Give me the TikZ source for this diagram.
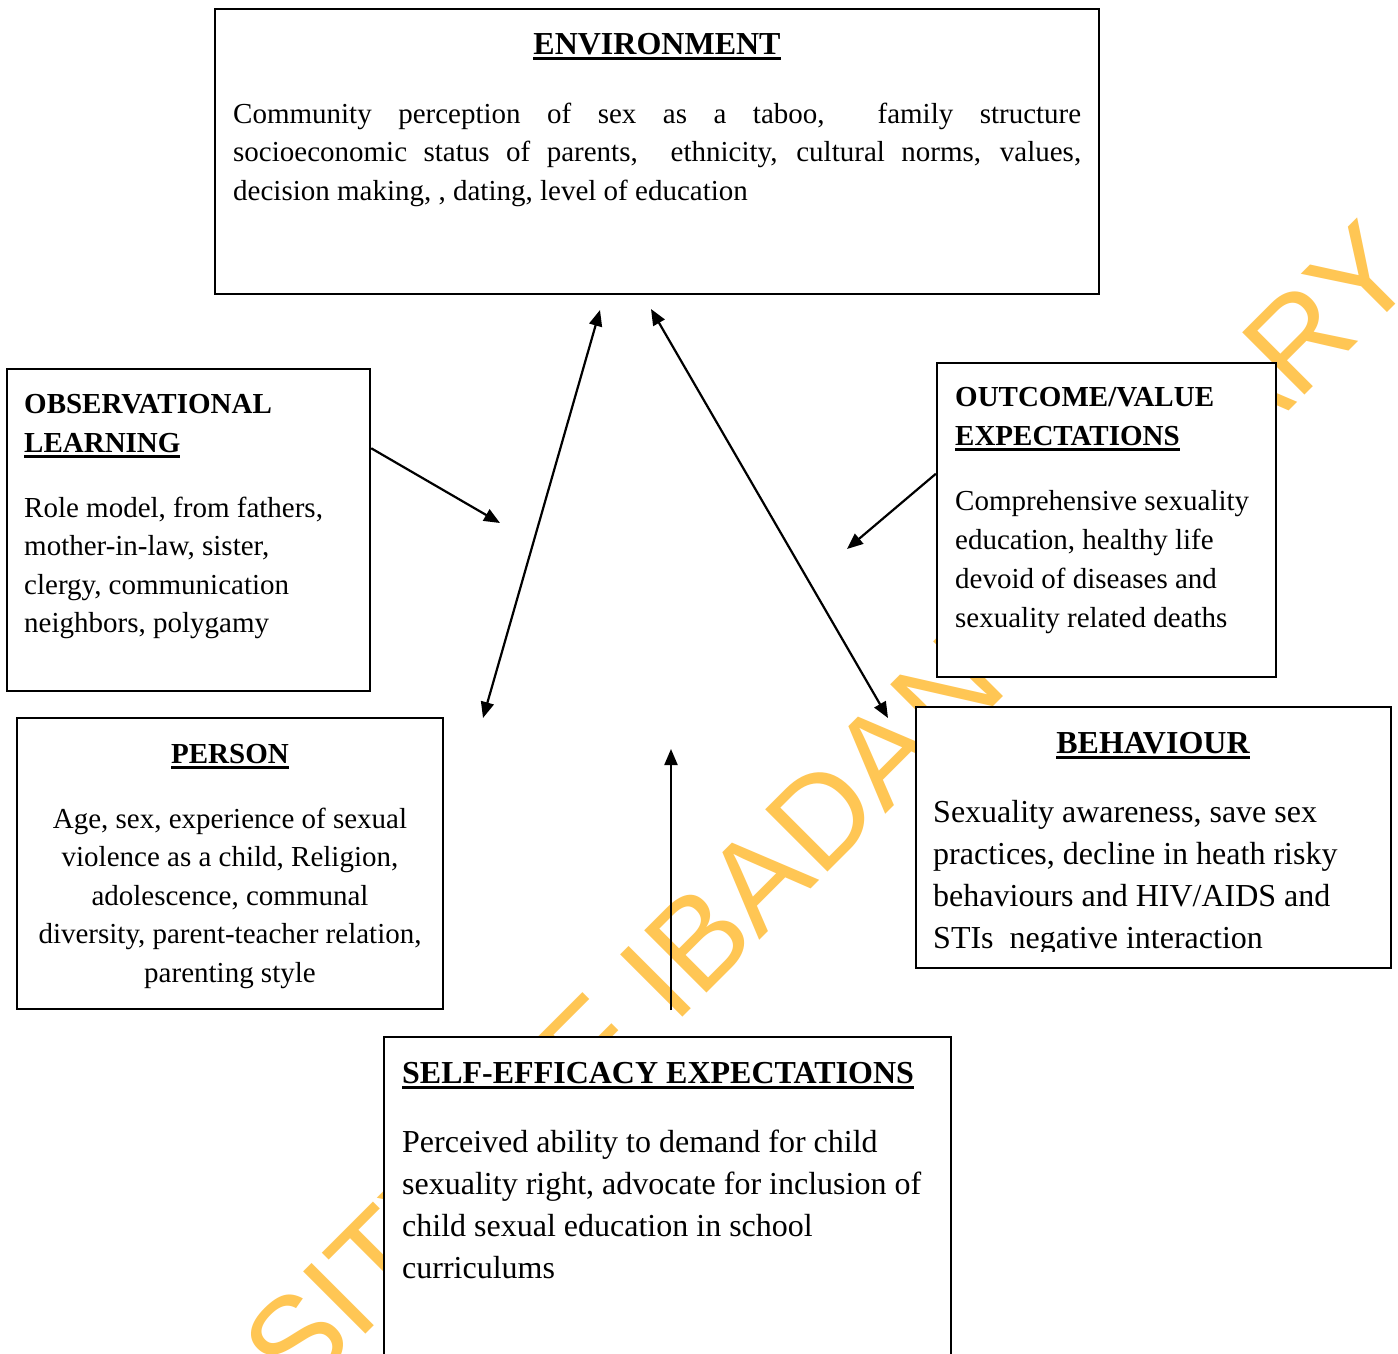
\documentclass[tikz,border=0pt]{standalone}
\usepackage{fontspec}
\setmainfont{Liberation Serif}
\newfontfamily\wmfont{Liberation Sans}
\usetikzlibrary{arrows.meta,calc}
\definecolor{wmcol}{RGB}{255,198,84}
\newcommand{\myul}[1]{\setbox0=\hbox{#1}\rlap{\rule[-5.5pt]{\wd0}{2.6pt}}\box0}
\tikzset{
  box/.style={draw, line width=2.4pt, fill=white, rectangle, inner sep=0pt},
  txt/.style={inner sep=0pt, font=\fontsize{29}{38.5}\selectfont},
  txtbig/.style={inner sep=0pt, font=\fontsize{32}{42}\selectfont},
  ttl/.style={inner sep=0pt, font=\fontsize{29}{39.5}\selectfont\bfseries},
  ttlbig/.style={inner sep=0pt, font=\fontsize{32}{42}\selectfont\bfseries},
  arr/.style={line width=2.2pt, -{Triangle[length=16pt,width=13pt]}},
  darr/.style={line width=2.2pt, {Triangle[length=16pt,width=13pt]}-{Triangle[length=16pt,width=13pt]}},
}
\begin{document}
\begin{tikzpicture}[x=1pt,y=-1pt]
\useasboundingbox (0,0) rectangle (1398,1353);
\clip (0,0) rectangle (1398,1353);
\fill[white] (0,0) rectangle (1398,1353);
% watermark
\node[anchor=base west, rotate=45, text=wmcol, inner sep=0pt,
      font=\wmfont\fontsize{128}{132}\selectfont] (wmark) at (-45,1745) {UNIVERSITY OF IBADAN LIBRARY};
% boxes
\node[box, minimum width=884pt, minimum height=285pt] (env) at (657,151.5) {};
\node[box, minimum width=363pt, minimum height=322pt] (obs) at (188.5,530) {};
\node[box, minimum width=339pt, minimum height=314pt] (out) at (1106.5,520) {};
\node[box, minimum width=426pt, minimum height=291pt] (per) at (230,863.5) {};
\node[box, minimum width=475pt, minimum height=261pt] (beh) at (1153.5,837.5) {};
\node[box, minimum width=567pt, minimum height=343pt] (self) at (667.5,1208.5) {};
% environment
\node[ttlbig, anchor=base] (envT) at (657,54) {\myul{ENVIRONMENT}};
\node[txt, anchor=base west] (envB) at (233,123) {\parbox[t]{848pt}{%
\makebox[848pt][s]{Community perception of sex as a taboo,\ \ family structure}\\
\makebox[848pt][s]{socioeconomic status of parents,\ \ ethnicity, cultural norms, values,}\\
decision making, , dating, level of education}};
% observational learning
\node[ttl, anchor=base west] (obsT) at (24,413) {\parbox[t]{340pt}{OBSERVATIONAL\\\myul{LEARNING}}};
\node[txt, anchor=base west] (obsB) at (24,517) {\parbox[t]{340pt}{Role model, from fathers,\\mother-in-law, sister,\\clergy, communication\\neighbors, polygamy}};
% outcome
\node[ttl, anchor=base west] (outT) at (955,406) {\parbox[t]{320pt}{OUTCOME/VALUE\\\myul{EXPECTATIONS}}};
\node[txt, anchor=base west] (outB) at (955,510) {\parbox[t]{320pt}{\fontsize{29}{39}\selectfont Comprehensive sexuality\\education, healthy life\\devoid of diseases and\\sexuality related deaths}};
% person
\node[ttl, anchor=base] (perT) at (230,763) {\myul{PERSON}};
\node[txt, anchor=base] (perB) at (230,828) {\parbox[t]{420pt}{\centering Age, sex, experience of sexual\\violence as a child, Religion,\\adolescence, communal\\diversity, parent-teacher relation,\\parenting style}};
% behaviour
\node[ttlbig, anchor=base] (behT) at (1153,753) {\myul{BEHAVIOUR}};
\begin{scope}
\clip (916,770) rectangle (1391,951);
\node[txtbig, anchor=base west] (behB) at (933,822) {\parbox[t]{450pt}{Sexuality awareness, save sex\\practices, decline in heath risky\\behaviours and HIV/AIDS and\\STIs\ \ negative interaction}};
\end{scope}
% self-efficacy
\node[ttlbig, anchor=base west] (selfT) at (402,1083) {\myul{SELF-EFFICACY EXPECTATIONS}};
\node[txtbig, anchor=base west] (selfB) at (402,1152) {\parbox[t]{540pt}{Perceived ability to demand for child\\sexuality right, advocate for inclusion of\\child sexual education in school\\curriculums}};
% connectors
\coordinate (c1) at (500,523);
\draw[arr] ($(obs.north east)!0.248!(obs.south east)$) -- (c1);
\coordinate (c2a) at (600,310);
\coordinate (c2b) at (483,718);
\draw[darr] (c2a) -- (c2b);
\coordinate (c3a) at (651,309);
\coordinate (c3b) at (888,718);
\draw[darr] (c3a) -- (c3b);
\coordinate (c4) at (847,549);
\draw[arr] ($(out.north west)!0.354!(out.south west)$) -- (c4);
\coordinate (c5a) at (671,1010);
\coordinate (c5b) at (671,749);
\draw[arr] (c5a) -- (c5b);
\end{tikzpicture}
\end{document}
